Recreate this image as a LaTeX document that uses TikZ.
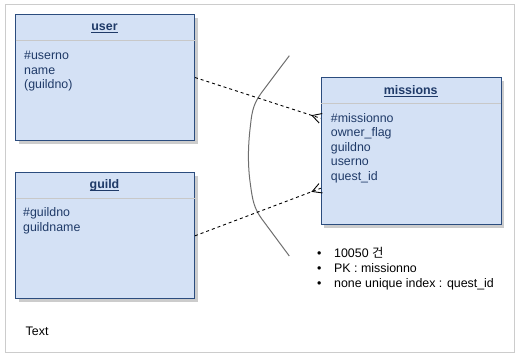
\documentclass[tikz,border=0pt]{standalone}
\usepackage{fontspec}
\setmainfont{Liberation Sans}
\newfontfamily\krfont{Noto Sans CJK KR}
\usetikzlibrary{calc,shadows}
\definecolor{boxfill}{HTML}{D4E1F5}
\definecolor{boxline}{HTML}{2B4C7E}
\definecolor{navy}{HTML}{1F3A68}
\definecolor{sepgray}{HTML}{C8C8C8}
\definecolor{framegray}{HTML}{CCCCCC}
\definecolor{curvegray}{HTML}{6E6E6E}
\newcommand\myul[1]{\setbox0\hbox{#1}\rlap{\rule[-2.2pt]{\wd0}{0.9pt}}\box0}
\tikzset{
  erbox/.style={draw=boxline, fill=boxfill, line width=1pt, rectangle, inner sep=0pt,
    anchor=north west, drop shadow={shadow xshift=3pt, shadow yshift=-3pt, fill=black!40, opacity=0.5}},
  septline/.style={draw=sepgray, line width=0.8pt},
  ertitle/.style={anchor=base, inner sep=0pt, text=navy, font=\fontsize{12.4}{14}\selectfont\bfseries},
  erfield/.style={anchor=base west, inner sep=0pt, text=navy, font=\fontsize{12.4}{14}\selectfont},
  plaintext/.style={anchor=base west, inner sep=0pt, text=black, font=\fontsize{12.4}{14}\selectfont},
  bulletmark/.style={anchor=base, inner sep=0pt, text=black, font=\fontsize{12.4}{14}\selectfont},
  relline/.style={draw=black, line width=0.9pt, dash pattern=on 3pt off 3pt},
  crowfoot/.style={draw=black, line width=0.9pt},
  frameline/.style={draw=framegray, line width=1pt},
  curveline/.style={draw=curvegray, line width=1pt}
}
\begin{document}
\begin{tikzpicture}[x=1pt,y=-1pt]
\useasboundingbox (0,0) rectangle (520,359);
\draw[frameline] (5,4) rectangle (514,352);

% curve
\draw[curveline] (289.3,55.7) -- (262,92) .. controls (254,103) and (252,110) .. (250.5,125)
  .. controls (248,145) and (247.5,165) .. (250.5,185) .. controls (252.5,200) and (254,208) .. (261.5,218.5) -- (289.3,256);

% boxes
\node[erbox, minimum width=179pt, minimum height=126pt] (user) at (15,14) {};
\node[erbox, minimum width=179pt, minimum height=126pt] (guild) at (15,172.3) {};
\node[erbox, minimum width=180pt, minimum height=147pt] (missions) at (320.7,77.3) {};

\draw[septline] ($(user.north west)+(0.5,26.7)$) -- ($(user.north east)+(-0.5,26.7)$);
\draw[septline] ($(guild.north west)+(0.5,26)$) -- ($(guild.north east)+(-0.5,26)$);
\draw[septline] ($(missions.north west)+(0.5,26)$) -- ($(missions.north east)+(-0.5,26)$);

% titles
\node[ertitle] (usertitle) at (104.5,30.5) {\myul{user}};
\node[ertitle] (guildtitle) at (104.5,188.5) {\myul{guild}};
\node[ertitle] (missionstitle) at (410.7,94.5) {\myul{missions}};

% fields
\node[erfield] (u1) at (24,59.5) {\#userno};
\node[erfield] (u2) at (24,74) {name};
\node[erfield] (u3) at (24,88.5) {(guildno)};

\node[erfield] (g1) at (23,216.5) {\#guildno};
\node[erfield] (g2) at (23,231) {guildname};

\node[erfield] (m1) at (330.7,122) {\#missionno};
\node[erfield] (m2) at (330.7,136.6) {owner\_flag};
\node[erfield] (m3) at (330.7,151.2) {guildno};
\node[erfield] (m4) at (330.7,165.8) {userno};
\node[erfield] (m5) at (330.7,180.4) {quest\_id};

% connectors
\coordinate (mu) at ($(missions.north west)+(0,41)$);
\coordinate (mg) at ($(missions.north west)+(0,111)$);
\draw[relline] (user.east) -- (mu);
\draw[relline] (guild.east) -- (mg);
\draw[crowfoot] ($(mu)!5pt!90:(user.east)$) -- ($(mu)!9pt!(user.east)$) -- ($(mu)!5pt!-90:(user.east)$);
\draw[crowfoot] ($(mg)!5pt!90:(guild.east)$) -- ($(mg)!9pt!(guild.east)$) -- ($(mg)!5pt!-90:(guild.east)$);

% notes
\node[bulletmark] (b1) at (319.3,257) {\textbullet};
\node[bulletmark] (b2) at (319.3,272) {\textbullet};
\node[bulletmark] (b3) at (319.3,287) {\textbullet};
\node[plaintext] (n1) at (334,257) {10050 {\krfont 건}};
\node[plaintext] (n2) at (334,272) {PK : missionno};
\node[plaintext] (n3) at (334,287) {none unique index : quest\_id};

\node[plaintext] (txt) at (25.5,335) {Text};
\end{tikzpicture}
\end{document}
